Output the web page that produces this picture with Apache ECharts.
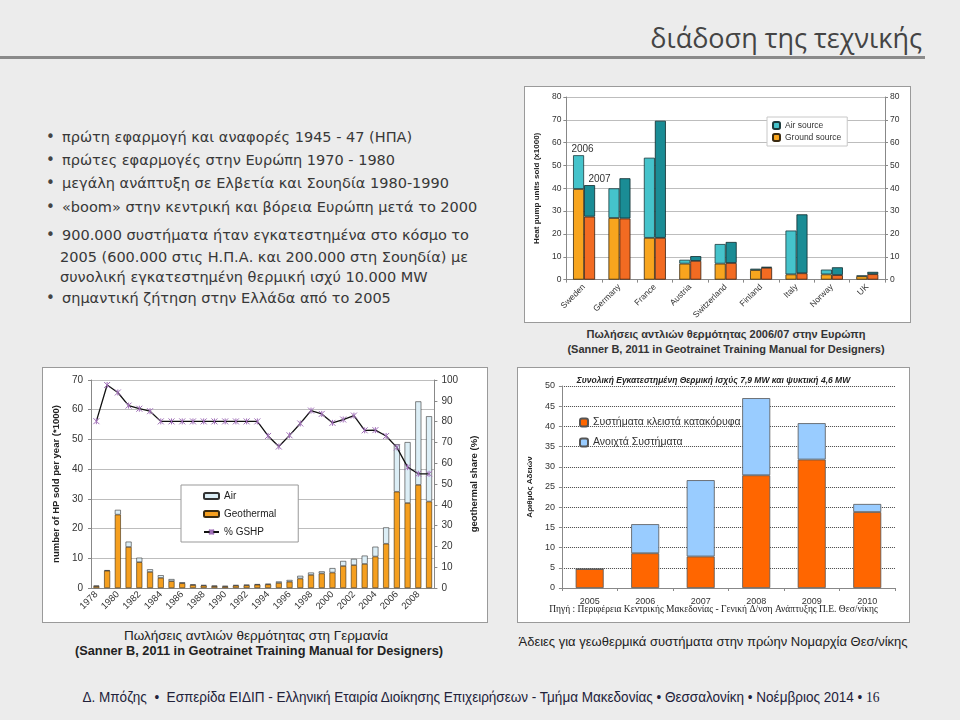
<!DOCTYPE html>
<html><head><meta charset="utf-8">
<script src="https://cdn.jsdelivr.net/npm/echarts@6/dist/echarts.min.js"></script>
<style>
body{margin:0;width:960px;height:720px;background:#ececec;position:relative;overflow:hidden;font-family:'DejaVu Sans',sans-serif;}
.abs{position:absolute;white-space:nowrap;}
.box{position:absolute;background:#fff;border:1px solid #9a9a9a;box-sizing:border-box;}
.bl{position:absolute;left:0;white-space:nowrap;font-size:14.5px;color:#383838;line-height:20px;}
.dot{position:absolute;left:46px;font-size:15px;color:#444;line-height:20px;}
.fit{position:absolute;white-space:nowrap;font-family:'Liberation Sans',Arial,sans-serif;transform-origin:center;}
</style></head><body>
<div class="abs" style="right:38px;top:20px;font-family:'Open Sans',sans-serif;font-size:27px;color:#444;line-height:36px;">διάδοση της τεχνικής</div>
<div class="abs" style="left:0;right:35px;top:56px;height:3px;background:#8a8a8a;"></div>

<div id="bullets"></div>

<div class="box" id="c1" style="left:524px;top:86px;width:387px;height:237px;"></div>
<div class="abs" style="left:526px;width:400px;top:327px;text-align:center;font-family:'Liberation Sans',sans-serif;font-weight:bold;font-size:11px;line-height:15px;color:#333;">Πωλήσεις αντλιών θερμότητας 2006/07 στην Ευρώπη<br>(Sanner B, 2011 in Geotrainet Training Manual for Designers)</div>

<div class="box" id="c2" style="left:42px;top:367px;width:446px;height:256px;"></div>
<div class="fit" data-cx="256" data-w="264" style="top:628px;font-size:13.5px;line-height:16px;color:#222;">Πωλήσεις αντλιών θερμότητας στη Γερμανία</div>
<div class="fit" data-cx="259" data-w="368" style="top:643px;font-size:13.5px;line-height:16px;color:#222;font-weight:bold;">(Sanner B, 2011 in Geotrainet Training Manual for Designers)</div>

<div class="box" id="c3" style="left:517px;top:367px;width:393px;height:256px;"></div>
<div class="fit" data-cx="713" data-w="389" style="top:634px;font-size:13.5px;line-height:16px;color:#222;">Άδειες για γεωθερμικά συστήματα στην πρώην Νομαρχία Θεσ/νίκης</div>

<div class="fit" data-cx="481" data-w="797" style="top:688px;font-size:15px;line-height:18px;color:#22223a;">Δ. Μπόζης &nbsp;•&nbsp; Εσπερίδα ΕΙΔΙΠ - Ελληνική Εταιρία Διοίκησης Επιχειρήσεων - Τμήμα Μακεδονίας • Θεσσαλονίκη • Νοέμβριος 2014 • <span style="font-family:'Liberation Serif',serif;font-size:15px;">16</span></div>

<script>
// ---------- slide text ----------
const bulletLines = [
  {text:'πρώτη εφαρμογή και αναφορές 1945 - 47 (ΗΠΑ)', dot:true},
  {text:'πρώτες εφαρμογές στην Ευρώπη 1970 - 1980', dot:true},
  {text:'μεγάλη ανάπτυξη σε Ελβετία και Σουηδία 1980-1990', dot:true},
  {text:'«boom» στην κεντρική και βόρεια Ευρώπη μετά το 2000', dot:true},
  {text:'900.000 συστήματα ήταν εγκατεστημένα στο κόσμο το', dot:true},
  {text:'2005 (600.000 στις Η.Π.Α. και 200.000 στη Σουηδία) με', dot:false},
  {text:'συνολική εγκατεστημένη θερμική ισχύ 10.000 MW', dot:false},
  {text:'σημαντική ζήτηση στην Ελλάδα από το 2005', dot:true}
];
const bulletCenters = [137,160,183,207,235,257,277,298];

// ---------- chart 1: Europe 2006/07 ----------
const euCountries = ['Sweden','Germany','France','Austria','Switzerland','Finland','Italy','Norway','UK'];
const euGround2006 = [39.7, 27.0, 18.3, 7.0, 7.0, 4.2, 2.3, 2.3, 1.5];
const euAir2006    = [14.8, 13.0, 35.1, 1.7, 8.6, 0.6, 19.2, 2.1, 0.3];
const euGround2007 = [27.6, 26.8, 18.3, 8.2, 7.3, 5.2, 2.8, 2.0, 2.4];
const euAir2007    = [13.8, 17.6, 51.3, 2.1, 9.2, 0.4, 25.8, 3.4, 1.0];
const euYearLabels = ['2006','2007'];
const euTicks = [0,10,20,30,40,50,60,70,80];

// ---------- chart 2: Germany ----------
const deYears = ['1978','1979','1980','1981','1982','1983','1984','1985','1986','1987','1988','1989','1990','1991','1992','1993','1994','1995','1996','1997','1998','1999','2000','2001','2002','2003','2004','2005','2006','2007','2008','2009'];
const deGeo = [0.6,5.8,24.7,13.8,8.7,5.4,3.4,2.3,1.6,1.0,0.8,0.6,0.5,0.8,0.9,1.1,1.2,1.7,2.1,3.2,4.4,4.9,5.2,7.4,7.7,8.1,10.6,14.9,32.4,28.6,34.7,29.1];
const deAir = [0.2,0.2,1.6,1.8,1.5,0.9,0.9,0.7,0.3,0.2,0.2,0.2,0.2,0.2,0.2,0.2,0.2,0.5,0.6,0.9,0.8,0.7,1.5,1.7,2.1,2.8,3.3,5.5,16.0,20.5,28.1,28.7];
const deShare = [80.2,97.6,94.0,87.7,86.2,85.0,80.1,80.1,80.1,80.1,80.1,80.1,80.1,80.1,80.1,80.1,73.1,68.0,73.4,79.1,85.3,83.7,79.4,81.0,82.9,75.8,75.9,73.1,67.6,58.1,54.9,54.9];

// ---------- chart 3: Thessaloniki permits ----------
const thYears = ['2005','2006','2007','2008','2009','2010'];
const thClosed = [4.7, 8.6, 7.8, 27.9, 31.8, 18.8];
const thOpen   = [0, 7.2, 18.9, 19.1, 9.0, 2.0];
const thTitle = 'Συνολική Εγκατεστημένη Θερμική Ισχύς 7,9 MW και ψυκτική 4,6 MW';
const thSource = 'Πηγή : Περιφέρεια Κεντρικής Μακεδονίας - Γενική Δ/νση Ανάπτυξης Π.Ε. Θεσ/νίκης';

// render bullets
const bw = document.getElementById('bullets');
bulletLines.forEach((l,i)=>{
  const top = bulletCenters[i]-10;
  if(l.dot){ const d=document.createElement('div'); d.className='dot'; d.style.top=top+'px'; d.textContent='•'; bw.appendChild(d); }
  const t=document.createElement('div'); t.className='bl'; t.style.top=top+'px'; t.style.left=(l.dot?62:60)+'px'; t.textContent=l.text; bw.appendChild(t);
});

// condensed text: scale horizontally to the reference widths
document.querySelectorAll('.fit').forEach(el=>{
  const w = el.getBoundingClientRect().width;
  const s = (+el.dataset.w)/w;
  el.style.left = el.dataset.cx+'px';
  el.style.transform = 'translateX(-50%) scaleX('+s.toFixed(4)+')';
});

const FF = 'Liberation Sans, Arial, sans-serif';

// ===== chart 1 =====
const c1 = echarts.init(document.getElementById('c1'));
const labelOffsets = [[4,0],[10,0]];
function withYearLabel(arr, k){
  return arr.map((v,i)=> i===0 ? {value:v, label:{show:true, position:'top', distance:1, offset:labelOffsets[k], formatter:euYearLabels[k], fontSize:10, color:'#333'}} : v);
}
c1.setOption({
  animation:false,
  textStyle:{fontFamily:FF},
  grid:{left:31,right:25,top:10,bottom:38},
  legend:{data:['Air source','Ground source'], orient:'vertical', left:242, top:30, itemWidth:7, itemHeight:7, itemGap:3,
    padding:[4,6,4,5], borderColor:'#c8c8c8', borderWidth:1, backgroundColor:'#fff', textStyle:{fontSize:8.5,color:'#333'}},
  xAxis:{type:'category', data:euCountries, axisLabel:{rotate:45, fontSize:8.5, color:'#333', interval:0, margin:6},
    axisTick:{show:true, length:3, lineStyle:{color:'#888'}}, axisLine:{lineStyle:{color:'#888'}}},
  yAxis:[
    {type:'value', min:euTicks[0], max:euTicks[euTicks.length-1], interval:10, name:'Heat pump units sold (x1000)', nameLocation:'middle', nameGap:19,
      nameTextStyle:{fontWeight:'bold',fontSize:8,color:'#222'}, axisLabel:{fontSize:8.5,color:'#333',margin:5},
      axisLine:{show:true,lineStyle:{color:'#888'}}, axisTick:{show:true,length:3}, splitLine:{lineStyle:{color:'#bdbdbd'}}},
    {type:'value', min:euTicks[0], max:euTicks[euTicks.length-1], interval:10, axisLabel:{fontSize:8.5,color:'#333',margin:5},
      axisLine:{show:true,lineStyle:{color:'#888'}}, axisTick:{show:true,length:3}, splitLine:{show:false}}
  ],
  series:[
    {name:'Ground source', type:'bar', stack:'s2006', data:euGround2006, barWidth:11, barGap:'0%', itemStyle:{color:'#f8a51e',borderColor:'#3a2a10',borderWidth:0.8}},
    {name:'Air source', type:'bar', stack:'s2006', data:withYearLabel(euAir2006,0), barWidth:11, barGap:'0%', itemStyle:{color:'#45c3cb',borderColor:'#1d3a3c',borderWidth:0.8}},
    {name:'Ground source', type:'bar', stack:'s2007', data:euGround2007, barWidth:11, barGap:'0%', itemStyle:{color:'#f26b22',borderColor:'#3a2010',borderWidth:0.8}},
    {name:'Air source', type:'bar', stack:'s2007', data:withYearLabel(euAir2007,1), barWidth:11, barGap:'0%', itemStyle:{color:'#1a8c95',borderColor:'#0f2a2c',borderWidth:0.8}}
  ]
});

// ===== chart 2 =====
const c2 = echarts.init(document.getElementById('c2'));
c2.setOption({
  animation:false,
  textStyle:{fontFamily:FF},
  grid:{left:35,right:48,top:12,bottom:34},
  legend:{data:['Air','Geothermal','% GSHP'], orient:'vertical', left:138, top:117, itemWidth:15, itemHeight:6, itemGap:8,
    padding:[6,22,5,22], borderColor:'#999', borderWidth:1, backgroundColor:'#fff', textStyle:{fontSize:10,color:'#222'}},
  xAxis:{type:'category', data:deYears, axisLabel:{rotate:45, fontSize:9.5, color:'#333', interval:1, margin:5},
    axisTick:{show:false}, axisLine:{lineStyle:{color:'#888'}}},
  yAxis:[
    {type:'value', min:0, max:70, interval:10, name:'number of HP sold per year (*1000)', nameLocation:'middle', nameGap:27,
      nameTextStyle:{fontWeight:'bold',fontSize:9.5,color:'#222'}, axisLabel:{fontSize:10,color:'#333',margin:8},
      axisLine:{show:true,lineStyle:{color:'#888'}}, axisTick:{show:true,length:3}, splitLine:{lineStyle:{color:'#bdbdbd'}}},
    {type:'value', min:0, max:100, interval:10, name:'geothermal share (%)', nameLocation:'middle', nameGap:32,
      nameTextStyle:{fontWeight:'bold',fontSize:9.5,color:'#222'}, axisLabel:{fontSize:10,color:'#333',margin:7},
      axisLine:{show:true,lineStyle:{color:'#888'}}, axisTick:{show:true,length:3}, splitLine:{show:false}}
  ],
  series:[
    {name:'Geothermal', type:'bar', stack:'hp', data:deGeo, barWidth:6, itemStyle:{color:'#f59f1f',borderColor:'#3a2a10',borderWidth:0.6}},
    {name:'Air', type:'bar', stack:'hp', data:deAir, barWidth:6, itemStyle:{color:'#dceef6',borderColor:'#333',borderWidth:0.6}},
    {name:'% GSHP', type:'line', yAxisIndex:1, data:deShare, symbol:'path://M0,0L10,10M10,0L0,10M5,0L5,10', symbolSize:6,
      lineStyle:{color:'#111',width:1.3}, itemStyle:{color:'#a070b8',borderColor:'#a070b8',borderWidth:1}}
  ]
});

// ===== chart 3 =====
const c3 = echarts.init(document.getElementById('c3'));
c3.setOption({
  animation:false,
  textStyle:{fontFamily:FF},
  title:[
    {text:thTitle, left:'center', top:3, textStyle:{fontSize:8.5,fontStyle:'italic',fontWeight:'bold',color:'#222'}},
    {text:thSource, left:'center', bottom:3, textStyle:{fontFamily:'Liberation Serif, serif',fontSize:9.5,fontWeight:'normal',color:'#222'}}
  ],
  grid:{left:33,right:14,top:18,bottom:34},
  legend:{data:['Συστήματα κλειστά κατακόρυφα','Ανοιχτά Συστήματα'], orient:'vertical', left:56, top:44, itemWidth:8, itemHeight:8, itemGap:9,
    textStyle:{fontSize:10.5,color:'#333'}},
  xAxis:{type:'category', data:thYears, axisLabel:{fontSize:9,color:'#333',margin:9},
    axisTick:{show:true,length:3,lineStyle:{color:'#888'}}, axisLine:{lineStyle:{color:'#888'}}},
  yAxis:{type:'value', min:0, max:50, interval:5, name:'Αριθμός Αδειών', nameLocation:'middle', nameGap:22,
    nameTextStyle:{fontWeight:'bold',fontSize:8,color:'#222'}, axisLabel:{fontSize:9,color:'#333',margin:7},
    axisLine:{show:true,lineStyle:{color:'#888'}}, axisTick:{show:true,length:3}, splitLine:{lineStyle:{color:'#444',type:'dotted'}}},
  series:[
    {name:'Συστήματα κλειστά κατακόρυφα', type:'bar', stack:'p', data:thClosed, barWidth:28, itemStyle:{color:'#ff6600',borderColor:'#555',borderWidth:0.8}},
    {name:'Ανοιχτά Συστήματα', type:'bar', stack:'p', data:thOpen, barWidth:28, itemStyle:{color:'#99ccff',borderColor:'#555',borderWidth:0.8}}
  ]
});
</script>
</body></html>
